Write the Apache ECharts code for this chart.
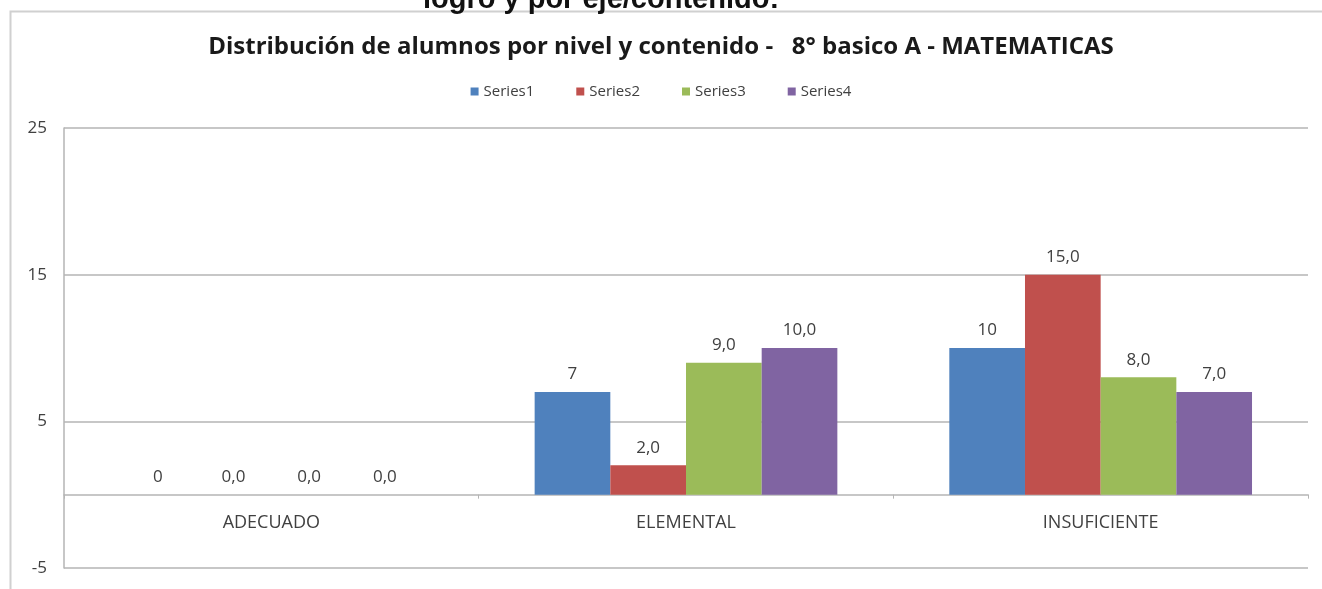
<!DOCTYPE html>
<html>
<head>
<meta charset="utf-8">
<style>
  html, body { margin: 0; padding: 0; background: #fff; }
  #chart { width: 1322px; height: 589px; }
</style>
<script src="https://cdn.jsdelivr.net/npm/echarts@6/dist/echarts.min.js"></script>
</head>
<body>
<div id="chart"></div>
<script>
var categories = ['ADECUADO', 'ELEMENTAL', 'INSUFICIENTE'];
var seriesNames = ['Series1', 'Series2', 'Series3', 'Series4'];
var series1 = [0, 7, 10];
var series2 = [0, 2, 15];
var series3 = [0, 9, 8];
var series4 = [0, 10, 7];
var labelDecimals = [0, 1, 1, 1];
var yTicks = [-5, 5, 15, 25];

(function() {
  var colors = ['#4F81BD', '#C0504D', '#9BBB59', '#8064A2'];
  var font = '"Open Sans", Lato, sans-serif';
  var textColor = '#404040';
  var gridColor = '#b5b5b5';
  var values = [series1, series2, series3, series4];

  var chart = echarts.init(document.getElementById('chart'), null, { renderer: 'canvas' });

  var series = values.map(function(data, i) {
    return {
      name: seriesNames[i],
      type: 'bar',
      data: data,
      barGap: '0%',
      barCategoryGap: '27%',
      itemStyle: { color: colors[i] },
      label: {
        show: true,
        position: 'top',
        distance: 9,
        color: textColor,
        fontFamily: font,
        fontSize: 17,
        formatter: function(p) {
          return p.value.toFixed(labelDecimals[i]).replace('.', ',');
        }
      }
    };
  });

  chart.setOption({
    animation: false,
    backgroundColor: '#fff',
    color: colors,
    title: {
      text: 'Distribución de alumnos por nivel y contenido -   8° basico A - MATEMATICAS',
      left: 'center',
      top: 30,
      textStyle: { fontFamily: font, fontSize: 24, fontWeight: 'bold', color: '#1a1a1a' }
    },
    legend: {
      data: seriesNames,
      top: 79,
      left: 'center',
      icon: 'rect',
      itemWidth: 8,
      itemHeight: 8,
      itemGap: 42,
      textStyle: { fontFamily: font, fontSize: 15, color: textColor }
    },
    grid: { left: 64, right: 14, top: 128, bottom: 21, containLabel: false, outerBoundsMode: 'none' },
    xAxis: {
      type: 'category',
      data: categories,
      axisLine: { onZero: false, lineStyle: { color: gridColor, width: 1.5 } },
      axisTick: { show: true, length: 4, lineStyle: { color: gridColor } },
      axisLabel: { color: textColor, fontFamily: font, fontSize: 18, margin: 19 }
    },
    yAxis: {
      type: 'value',
      min: yTicks[0],
      max: yTicks[yTicks.length - 1],
      interval: 5,
      axisLine: { show: true, lineStyle: { color: gridColor, width: 1.5 } },
      axisTick: { show: false },
      axisLabel: {
        color: textColor,
        fontFamily: font,
        fontSize: 17,
        margin: 17,
        formatter: function(v) { return yTicks.indexOf(v) >= 0 ? String(v) : ''; }
      },
      splitLine: { show: true, lineStyle: { color: [gridColor, 'rgba(0,0,0,0)'], width: 1.5 } }
    },
    graphic: [
      {
        type: 'rect',
        silent: true,
        shape: { x: 10.5, y: 11.5, width: 1330, height: 620 },
        style: { fill: 'none', stroke: '#d0d0d0', lineWidth: 2 }
      },
      {
        type: 'text',
        silent: true,
        style: {
          x: 601,
          y: 14,
          text: 'logro y por eje/contenido:',
          textAlign: 'center',
          textVerticalAlign: 'bottom',
          font: 'bold 29px "Liberation Sans", Arial, sans-serif',
          fill: '#111'
        }
      }
    ],
    series: series
  });

  // move the category axis (line, ticks and labels) up to the zero line
  var zeroY = chart.convertToPixel({ yAxisIndex: 0 }, 0);
  var bottomY = chart.convertToPixel({ yAxisIndex: 0 }, yTicks[0]);
  chart.setOption({ xAxis: { offset: -(bottomY - zeroY) } });

  window.addEventListener('resize', function() { chart.resize(); });
})();
</script>
</body>
</html>
